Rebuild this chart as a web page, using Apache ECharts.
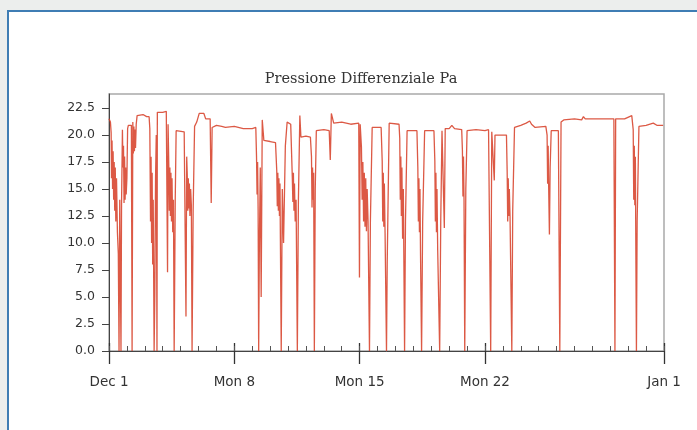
<!DOCTYPE html>
<html>
<head>
<meta charset="utf-8">
<script src="https://cdn.jsdelivr.net/npm/echarts@6/dist/echarts.min.js"></script>
<style>
  html, body { margin: 0; padding: 0; width: 697px; height: 430px; overflow: hidden; background: #eceeed; }
  #frame { position: absolute; left: 7px; top: 10px; width: 720px; height: 450px; border: 2px solid #3f7db4; background: #ffffff; box-sizing: border-box; }
  #chart { position: absolute; left: 0; top: 0; width: 697px; height: 430px; filter: blur(0.6px); }
</style>
</head>
<body>
<div id="frame"></div>
<div id="chart"></div>
<script>
// Days since Dec 1 (00:00) and differential pressure (Pa)
const week1 = [
  [0.00, 21.5], [0.08, 21.2], [0.12, 20.2], [0.14, 16.0], [0.17, 19.5], [0.20, 15.0], [0.23, 18.5],
  [0.26, 14.0], [0.29, 17.5], [0.32, 13.0], [0.35, 17.0], [0.38, 12.0], [0.42, 16.0], [0.47, 11.0],
  [0.52, 9.0], [0.56, 0], [0.60, 14.0], [0.67, 0], [0.70, 13.5], [0.75, 20.5], [0.78, 17.0],
  [0.81, 19.0], [0.84, 13.7], [0.87, 18.0], [0.90, 14.0], [0.93, 17.0], [0.96, 14.5], [1.00, 16.0],
  [1.04, 20.6], [1.08, 20.9], [1.25, 20.9], [1.29, 0], [1.33, 21.2], [1.36, 18.3], [1.39, 20.8],
  [1.42, 18.5], [1.45, 20.5], [1.48, 18.8], [1.52, 21.0], [1.57, 21.8], [1.90, 21.9], [2.10, 21.7],
  [2.24, 21.7], [2.28, 20.6], [2.32, 12.0], [2.35, 18.0], [2.38, 10.0], [2.41, 16.5], [2.44, 8.0],
  [2.47, 14.0], [2.52, 0], [2.56, 5.3], [2.60, 16.0], [2.64, 20.0], [2.68, 0], [2.70, 22.1],
  [2.75, 22.2], [3.00, 22.1], [3.20, 22.2], [3.27, 7.3], [3.30, 21.0], [3.34, 17.3], [3.37, 13.0],
  [3.40, 17.0], [3.43, 12.5], [3.46, 16.5], [3.49, 12.0], [3.52, 16.0], [3.56, 11.0], [3.60, 14.0],
  [3.64, 0], [3.70, 14.0], [3.75, 20.4], [4.20, 20.3], [4.30, 3.2], [4.34, 18.0], [4.37, 16.4],
  [4.40, 13.0], [4.43, 16.0], [4.46, 13.2], [4.49, 15.5], [4.52, 12.5], [4.56, 15.0], [4.60, 13.5],
  [4.64, 0], [4.70, 13.0], [4.78, 20.8], [4.90, 21.2], [5.04, 22.0], [5.30, 22.0], [5.40, 21.5],
  [5.65, 21.5], [5.71, 13.7], [5.76, 20.7], [6.00, 20.9], [6.30, 20.8], [6.50, 20.7], [7.00, 20.8]
];
const week2 = [
  [7.50, 20.6], [8.00, 20.6], [8.20, 20.7], [8.24, 18.0], [8.27, 14.5], [8.30, 17.5], [8.33, 13.0],
  [8.36, 0], [8.40, 10.0], [8.45, 17.0], [8.50, 5.0], [8.56, 21.4], [8.65, 19.5], [9.00, 19.4],
  [9.30, 19.3], [9.37, 16.7], [9.40, 13.4], [9.43, 16.5], [9.46, 13.0], [9.49, 16.0], [9.52, 12.5],
  [9.55, 15.5], [9.62, 0], [9.68, 15.0], [9.75, 10.0], [9.85, 19.0], [9.95, 21.2], [10.15, 21.0],
  [10.24, 16.0], [10.27, 13.8], [10.30, 16.5], [10.33, 13.0], [10.36, 15.5], [10.40, 12.0],
  [10.45, 14.0], [10.52, 0], [10.58, 14.0], [10.66, 21.8], [10.72, 19.8], [11.00, 19.9],
  [11.25, 19.8], [11.31, 18.0], [11.34, 13.3], [11.37, 17.0], [11.40, 14.0], [11.43, 16.5],
  [11.47, 0], [11.52, 15.0], [11.58, 20.4], [12.00, 20.5], [12.30, 20.4], [12.36, 17.7],
  [12.42, 22.0], [12.55, 21.1], [13.00, 21.2], [13.50, 21.0], [13.95, 21.1], [13.99, 6.8], [14.03, 21.0]
];
const week3 = [
  [14.10, 18.9], [14.14, 14.0], [14.18, 17.5], [14.22, 12.0], [14.26, 16.5], [14.30, 11.5],
  [14.34, 16.0], [14.38, 11.1], [14.42, 15.0], [14.47, 12.0], [14.55, 0], [14.60, 12.0],
  [14.70, 20.7], [15.20, 20.7], [15.26, 17.6], [15.29, 12.0], [15.32, 16.5], [15.35, 11.5],
  [15.38, 15.5], [15.42, 11.0], [15.50, 0], [15.54, 8.2], [15.65, 21.1], [16.20, 21.0],
  [16.24, 19.7], [16.27, 14.0], [16.30, 18.0], [16.33, 12.5], [16.36, 17.0], [16.40, 10.4],
  [16.44, 15.0], [16.51, 0], [16.56, 12.0], [16.65, 20.4], [17.20, 20.4], [17.25, 17.0],
  [17.28, 12.0], [17.31, 16.0], [17.34, 11.0], [17.37, 15.0], [17.40, 9.0], [17.46, 0],
  [17.52, 12.0], [17.63, 20.4], [18.15, 20.4], [18.20, 17.6], [18.23, 12.0], [18.26, 16.5],
  [18.29, 11.0], [18.32, 15.0], [18.36, 9.3], [18.47, 0], [18.53, 12.0], [18.60, 20.4],
  [18.73, 11.4], [18.78, 20.6], [19.00, 20.6], [19.15, 20.9], [19.30, 20.6], [19.70, 20.5],
  [19.74, 18.6], [19.77, 14.3], [19.80, 18.0], [19.83, 14.0], [19.87, 0], [19.93, 15.0],
  [20.00, 20.4], [20.50, 20.5], [21.00, 20.4]
];
const week4 = [
  [21.20, 20.5], [21.32, 0], [21.38, 20.3], [21.52, 15.8], [21.56, 20.0], [21.80, 20.0],
  [22.20, 20.0], [22.24, 16.6], [22.27, 12.0], [22.30, 16.0], [22.33, 12.5], [22.36, 15.0],
  [22.40, 12.5], [22.50, 0], [22.55, 13.0], [22.65, 20.7], [23.00, 20.9], [23.30, 21.1],
  [23.50, 21.3], [23.60, 21.0], [23.80, 20.7], [24.40, 20.8], [24.47, 20.0], [24.50, 15.5],
  [24.53, 19.0], [24.56, 15.0], [24.60, 10.8], [24.64, 17.0], [24.70, 20.4], [25.10, 20.4],
  [25.18, 0], [25.25, 21.2], [25.40, 21.4], [26.00, 21.5], [26.40, 21.4], [26.50, 21.7],
  [26.60, 21.5], [27.50, 21.5], [28.20, 21.5], [28.26, 0], [28.30, 21.5], [28.80, 21.5],
  [29.20, 21.8], [29.28, 20.5], [29.31, 14.0], [29.34, 19.0], [29.37, 13.5], [29.40, 18.0],
  [29.43, 8.6], [29.46, 0], [29.50, 12.0], [29.60, 20.8], [30.00, 20.9], [30.40, 21.1],
  [30.60, 20.9], [30.95, 20.9]
];

const majorTickDays = [0, 7, 14, 21, 31];
const majorTickLabels = ['Dec 1', 'Mon 8', 'Mon 15', 'Mon 22', 'Jan 1'];
const minorTickDays = Array.from({length: 32}, (_, i) => i);
const yTickValues = [0, 2.5, 5, 7.5, 10, 12.5, 15, 17.5, 20, 22.5];

const series = week1.concat(week2, week3, week4);

const chart = echarts.init(document.getElementById('chart'), null, {renderer: 'canvas'});
const yLabelFont = { fontFamily: 'DejaVu Sans, sans-serif', fontSize: 12.5, color: '#333' };
const xLabelFont = { fontFamily: 'DejaVu Sans, sans-serif', fontSize: 13.5, color: '#333' };
const baseX = { type: 'value', min: 0, max: 31, gridIndex: 0, splitLine: {show: false} };

chart.setOption({
  animation: false,
  backgroundColor: 'transparent',
  title: {
    text: 'Pressione Differenziale Pa',
    left: 356, top: 67, textAlign: 'center',
    textStyle: { fontFamily: 'DejaVu Serif, serif', fontSize: 14.5, fontWeight: 'normal', color: '#333' }
  },
  grid: {
    left: 109, right: 33, top: 94, bottom: 79,
    show: true, borderColor: '#a9a9a9', borderWidth: 1.5, backgroundColor: '#fff'
  },
  xAxis: [
    Object.assign({}, baseX, {
      position: 'bottom',
      axisLine: { show: true, lineStyle: { color: '#444', width: 1 } },
      axisTick: { show: true, inside: false, length: 13, customValues: majorTickDays, lineStyle: { color: '#333', width: 1.3 } },
      axisLabel: {
        show: true, margin: 24, customValues: majorTickDays,
        formatter: (v) => majorTickLabels[majorTickDays.indexOf(v)] || '',
        ...xLabelFont
      }
    }),
    Object.assign({}, baseX, {
      position: 'bottom',
      axisLine: { show: false },
      axisTick: { show: true, inside: true, length: 8, customValues: majorTickDays, lineStyle: { color: '#333', width: 1.3 } },
      axisLabel: { show: false }
    }),
    Object.assign({}, baseX, {
      position: 'bottom',
      axisLine: { show: false },
      axisTick: { show: true, inside: true, length: 5, customValues: minorTickDays, lineStyle: { color: '#555' } },
      axisLabel: { show: false }
    })
  ],
  yAxis: {
    type: 'value', min: 0, max: 23.8,
    splitLine: { show: false },
    axisLine: { show: true, lineStyle: { color: '#444', width: 1 } },
    axisTick: { show: true, inside: false, length: 7, customValues: yTickValues, lineStyle: { color: '#444' } },
    axisLabel: {
      show: true, margin: 14, customValues: yTickValues,
      formatter: (v) => v.toFixed(1),
      ...yLabelFont
    }
  },
  series: [{
    type: 'line',
    name: 'Pressione Differenziale Pa',
    xAxisIndex: 0, yAxisIndex: 0,
    data: series,
    showSymbol: false,
    sampling: null,
    lineStyle: { color: '#d63c24', width: 1.3, opacity: 0.85 }
  }]
});
</script>
</body>
</html>
